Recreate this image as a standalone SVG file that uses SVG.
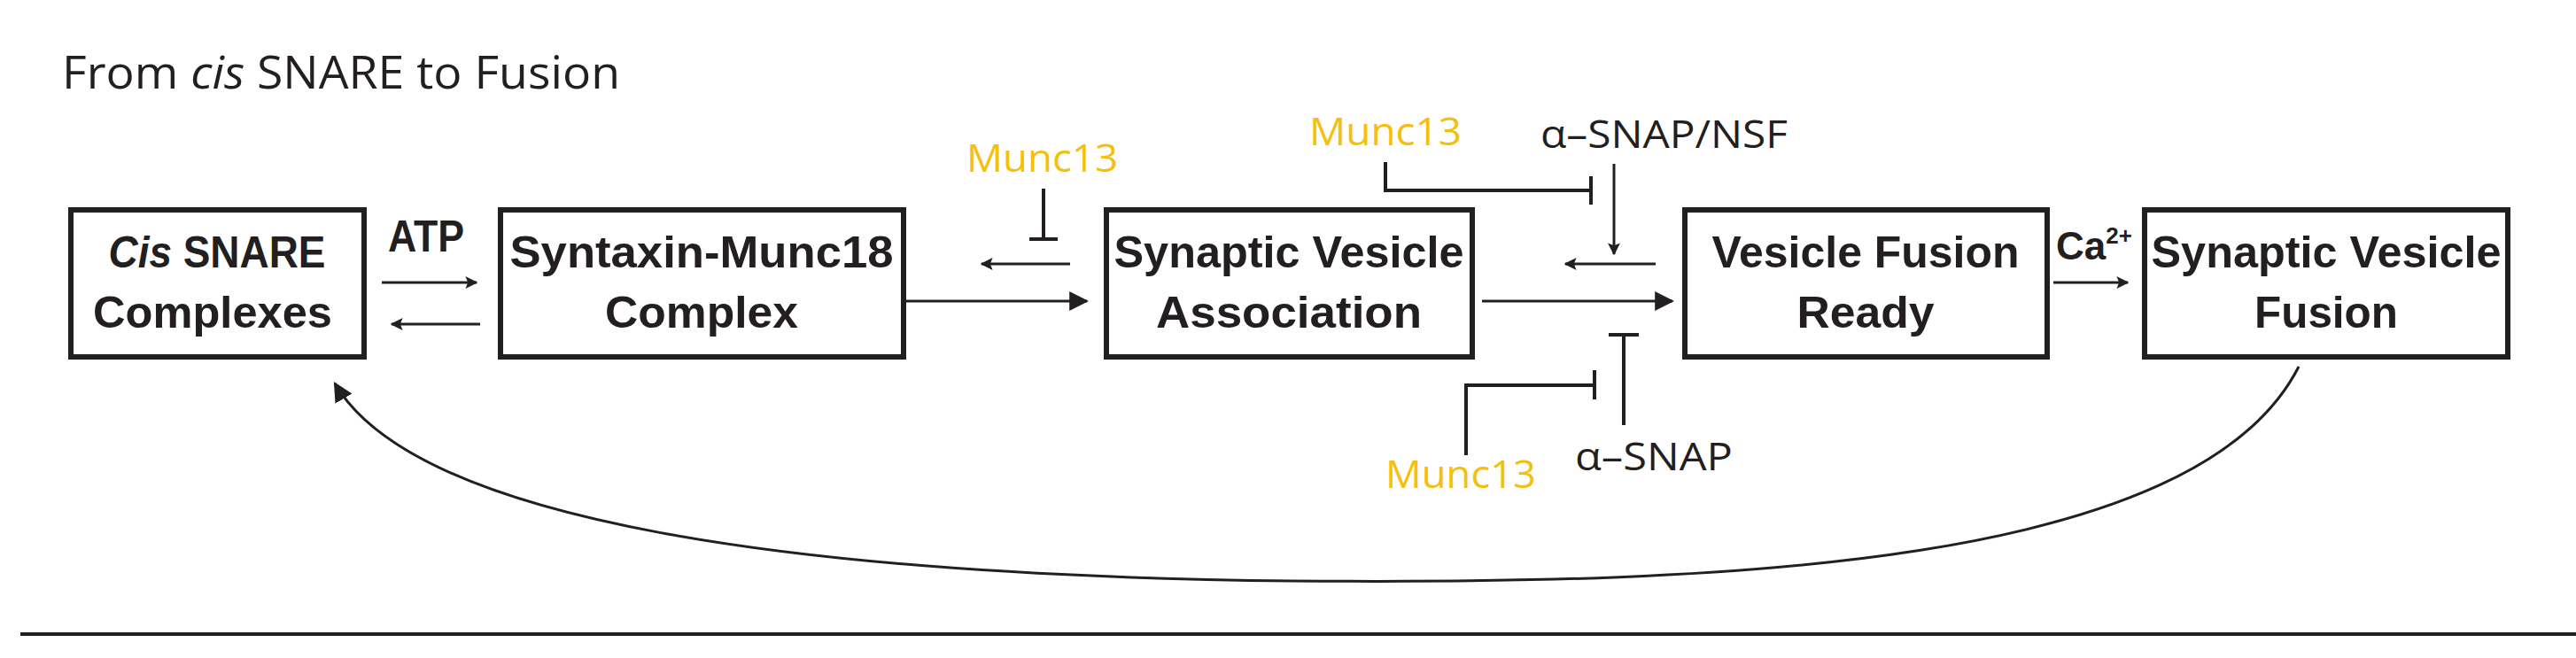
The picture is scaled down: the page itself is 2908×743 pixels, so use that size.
<svg xmlns="http://www.w3.org/2000/svg" width="2908" height="743" viewBox="0 0 2908 743">
<defs>
<marker id="ahs" viewBox="0 0 10 10" refX="9" refY="5" markerWidth="14" markerHeight="16" orient="auto" markerUnits="userSpaceOnUse"><path d="M0,0 L10,5 L0,10 L2,5 Z" fill="#231f20"/></marker>
<marker id="ahb" viewBox="0 0 10 10" refX="9" refY="5" markerWidth="22" markerHeight="22" orient="auto" markerUnits="userSpaceOnUse"><path d="M0,0 L10,5 L0,10 Z" fill="#231f20"/></marker>
</defs>
<style>
.box{fill:#fff;stroke:#231f20;stroke-width:6}
.bt{font-family:"Liberation Sans",Arial,sans-serif;font-weight:bold;font-size:50px;fill:#231f20;text-anchor:middle}
.ln{stroke:#231f20;stroke-width:3;fill:none}
.lt{stroke:#231f20;stroke-width:4;fill:none}
.y{font-family:"Open Sans","Liberation Sans",sans-serif;font-size:44px;fill:#f5bf0f}
.k{font-family:"Open Sans","Liberation Sans",sans-serif;font-size:44px;fill:#231f20}
</style>
<text x="70" y="100" font-family="Open Sans, Liberation Sans, sans-serif" font-size="52" fill="#231f20" textLength="630" lengthAdjust="spacingAndGlyphs">From <tspan font-style="italic">cis</tspan> SNARE to Fusion</text>
<g id="n1"><rect class="box" x="80" y="237" width="331" height="166"/><text class="bt" x="245" y="302" textLength="245" lengthAdjust="spacingAndGlyphs"><tspan font-style="italic">Cis</tspan> SNARE</text><text class="bt" x="240" y="370" textLength="270" lengthAdjust="spacingAndGlyphs">Complexes</text></g>
<g id="n2"><rect class="box" x="565" y="237" width="455" height="166"/><text class="bt" x="792" y="302" textLength="433" lengthAdjust="spacingAndGlyphs">Syntaxin-Munc18</text><text class="bt" x="792" y="370" textLength="218" lengthAdjust="spacingAndGlyphs">Complex</text></g>
<g id="n3"><rect class="box" x="1249" y="237" width="413" height="166"/><text class="bt" x="1455" y="302" textLength="395" lengthAdjust="spacingAndGlyphs">Synaptic Vesicle</text><text class="bt" x="1455" y="370" textLength="300" lengthAdjust="spacingAndGlyphs">Association</text></g>
<g id="n4"><rect class="box" x="1902" y="237" width="409" height="166"/><text class="bt" x="2106" y="302" textLength="347" lengthAdjust="spacingAndGlyphs">Vesicle Fusion</text><text class="bt" x="2106" y="370" textLength="155" lengthAdjust="spacingAndGlyphs">Ready</text></g>
<g id="n5"><rect class="box" x="2421" y="237" width="410" height="166"/><text class="bt" x="2626" y="302" textLength="395" lengthAdjust="spacingAndGlyphs">Synaptic Vesicle</text><text class="bt" x="2626" y="370" textLength="162" lengthAdjust="spacingAndGlyphs">Fusion</text></g>
<g id="labels">
<text class="bt" x="481" y="284" font-size="44" textLength="86" lengthAdjust="spacingAndGlyphs">ATP</text>
<text class="bt" x="2321" y="293" style="text-anchor:start;font-size:44px">Ca<tspan font-size="26" dy="-18">2+</tspan></text>
<text class="y" x="1091" y="194" textLength="171" lengthAdjust="spacingAndGlyphs">Munc13</text>
<text class="y" x="1478" y="164" textLength="172" lengthAdjust="spacingAndGlyphs">Munc13</text>
<text class="y" x="1564" y="551" textLength="170" lengthAdjust="spacingAndGlyphs">Munc13</text>
<text class="k" x="1739" y="167" textLength="279" lengthAdjust="spacingAndGlyphs">α–SNAP/NSF</text>
<text class="k" x="1778" y="531" textLength="178" lengthAdjust="spacingAndGlyphs">α–SNAP</text>
</g>
<g id="connectors">
<line class="ln" x1="431" y1="319" x2="538" y2="319" marker-end="url(#ahs)"/>
<line class="ln" x1="542" y1="366" x2="442" y2="366" marker-end="url(#ahs)"/>
<line class="ln" x1="2318" y1="319" x2="2402" y2="319" marker-end="url(#ahs)"/>
<line class="ln" x1="1208" y1="298" x2="1108" y2="298" marker-end="url(#ahs)"/>
<line class="ln" x1="1869" y1="298" x2="1767" y2="298" marker-end="url(#ahs)"/>
<line class="ln" x1="1020" y1="340" x2="1227" y2="340" marker-end="url(#ahb)"/>
<line class="ln" x1="1673" y1="340" x2="1888" y2="340" marker-end="url(#ahb)"/>
<line class="ln" x1="1822" y1="185" x2="1822" y2="287" marker-end="url(#ahs)"/>
<line class="lt" x1="1178" y1="213" x2="1178" y2="272"/><line class="lt" x1="1162" y1="270" x2="1194" y2="270"/>
<polyline class="lt" points="1564,183 1564,215 1796,215"/><line class="lt" x1="1796" y1="199" x2="1796" y2="231"/>
<line class="lt" x1="1833" y1="380" x2="1833" y2="480"/><line class="lt" x1="1816" y1="378" x2="1850" y2="378"/>
<polyline class="lt" points="1655,514 1655,435 1800,435"/><line class="lt" x1="1800" y1="418" x2="1800" y2="451"/>
<path class="ln" d="M2595,414 C2480,640 1950,660 1460,656 C900,650 470,590 378,433" marker-end="url(#ahb)"/>
<line x1="23" y1="716" x2="2908" y2="716" stroke="#231f20" stroke-width="4"/>
</g>
</svg>
